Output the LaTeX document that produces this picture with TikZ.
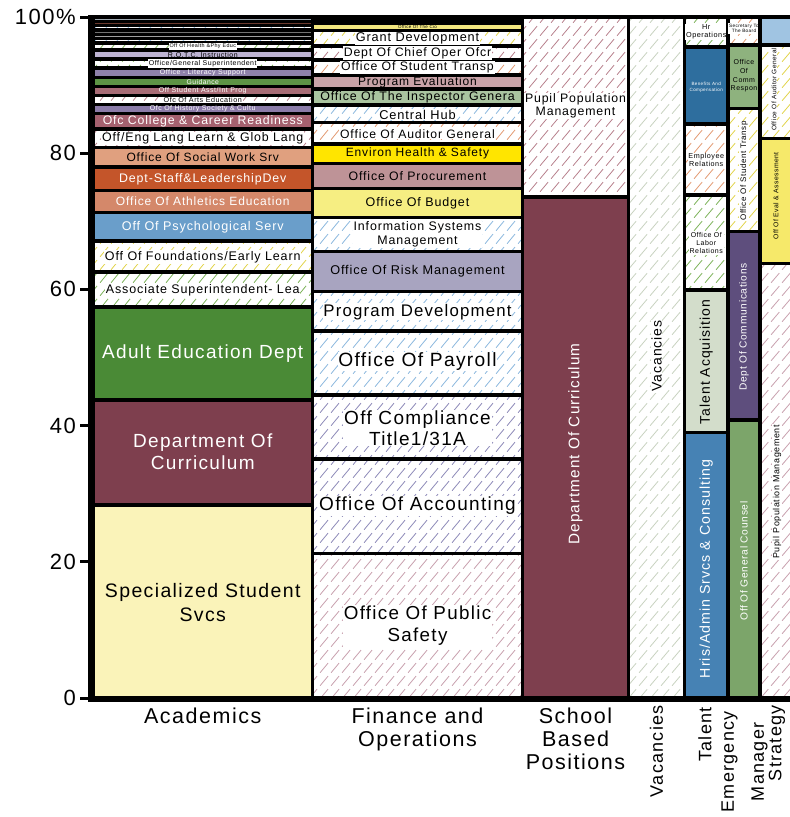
\documentclass[tikz,border=0pt]{standalone}
\usepackage{fontspec}
\setmainfont{Liberation Sans}[LetterSpace=7]
\usetikzlibrary{patterns.meta}

% fills
\definecolor{specyel}{HTML}{FAF3B9}
\definecolor{maroon}{HTML}{7E3F4E}
\definecolor{adultgrn}{HTML}{4A8A36}
\definecolor{psychblue}{HTML}{6A9ECA}
\definecolor{athletic}{HTML}{D4886A}
\definecolor{staffdev}{HTML}{C4552A}
\definecolor{socwork}{HTML}{E0A07F}
\definecolor{college}{HTML}{A5616F}
\definecolor{history}{HTML}{8B7BA8}
\definecolor{stuasst}{HTML}{A86C76}
\definecolor{guidgrn}{HTML}{5D9445}
\definecolor{literacy}{HTML}{8F82AA}
\definecolor{rotc}{HTML}{BDB3D2}
\definecolor{tinybrown}{HTML}{6B3A2E}
\definecolor{tinygray}{HTML}{9FA8B0}
\definecolor{riskmgmt}{HTML}{A8A4C0}
\definecolor{budget}{HTML}{F6EE82}
\definecolor{procure}{HTML}{BE9397}
\definecolor{environ}{HTML}{FFE500}
\definecolor{inspector}{HTML}{AAC4A0}
\definecolor{progeval}{HTML}{C9A3A8}
\definecolor{cioyel}{HTML}{F3E780}
\definecolor{talentacq}{HTML}{D3DDCB}
\definecolor{hris}{HTML}{4682B4}
\definecolor{benefits}{HTML}{2E6E9E}
\definecolor{counsel}{HTML}{7CA56A}
\definecolor{deptcomm}{HTML}{5E4E7D}
\definecolor{commresp}{HTML}{8EB27E}
\definecolor{evalyel}{HTML}{F6E96A}
\definecolor{stratblue}{HTML}{A0C4E2}
% hatch colours
\definecolor{hgreen}{HTML}{7DB35A}
\definecolor{hyellow}{HTML}{E2D44A}
\definecolor{hblue}{HTML}{8AB8DE}
\definecolor{hpurple}{HTML}{8C88B8}
\definecolor{hmaroon}{HTML}{B8808C}
\definecolor{hpink}{HTML}{C8A0AE}
\definecolor{hsalmon}{HTML}{E39A72}
\definecolor{hvac}{HTML}{C8D2C0}

\tikzdeclarepattern{
  name=dashhatch,
  type=uncolored,
  bottom left={(0pt,0pt)},
  top right={(11pt,13pt)},
  tile size={(11pt,13pt)},
  code={
    \draw[line width=0.85pt] (1.2pt,1.4pt) -- (9.8pt,11.6pt);
  }
}

\newcommand{\fsz}[2]{\fontsize{#1}{#2}\selectfont}

\tikzset{
  cellfill/.style={draw=black, line width=3.5pt, fill=#1},
  cellhatch/.style={draw=black, line width=3.5pt, pattern=dashhatch, pattern color=#1},
  txt/.style={inner sep=0.8pt, align=center, text=black},
  wtxt/.style={txt, text=white},
  htxt/.style={txt, fill=white},
  ticklab/.style={anchor=east, inner sep=0pt, font=\fsz{22}{24}},
  xlab/.style={anchor=north, align=center, inner sep=0pt, font=\fsz{21.5}{23}},
  rlab/.style={rotate=90, anchor=east, align=center, inner sep=0pt, font=\fsz{18}{30}},
}

\begin{document}
\begin{tikzpicture}[x=1pt, y=-1pt]
    \fill[white] (0,0) rectangle (790,817);
    \useasboundingbox (0,0) rectangle (790,817);

    % Academics
    \draw[cellfill=specyel] (93,505) rectangle (312.5,698);
    \draw[cellfill=maroon] (93,400) rectangle (312.5,505);
    \draw[cellfill=adultgrn] (93,307) rectangle (312.5,400);
    \draw[cellhatch=hgreen] (93,272) rectangle (312.5,307);
    \draw[cellhatch=hyellow] (93,241) rectangle (312.5,272);
    \draw[cellfill=psychblue] (93,212.5) rectangle (312.5,241);
    \draw[cellfill=athletic] (93,190.5) rectangle (312.5,212.5);
    \draw[cellfill=staffdev] (93,167) rectangle (312.5,190.5);
    \draw[cellfill=socwork] (93,147.5) rectangle (312.5,167);
    \draw[cellhatch=hmaroon] (93,129) rectangle (312.5,147.5);
    \draw[cellfill=college] (93,113.5) rectangle (312.5,129);
    \draw[cellfill=history] (93,104.5) rectangle (312.5,113.5);
    \draw[cellhatch=hmaroon] (93,95.5) rectangle (312.5,104.5);
    \draw[cellfill=stuasst] (93,86.5) rectangle (312.5,95.5);
    \draw[cellfill=guidgrn] (93,77.5) rectangle (312.5,86.5);
    \draw[cellfill=literacy] (93,68) rectangle (312.5,77.5);
    \draw[cellhatch=hgreen] (93,59) rectangle (312.5,68);
    \draw[cellfill=rotc] (93,50) rectangle (312.5,59);
    \draw[cellhatch=hgreen] (93,43) rectangle (312.5,50);
    \draw[cellhatch=hblue] (93,38.6) rectangle (312.5,43);
    \draw[cellfill=gray!75] (93,34.3) rectangle (312.5,38.6);
    \draw[cellfill=gray!90!black] (93,30) rectangle (312.5,34.3);
    \draw[cellhatch=hblue] (93,25.6) rectangle (312.5,30);
    \draw[cellfill=tinybrown] (93,21.3) rectangle (312.5,25.6);
    \draw[cellfill=tinygray] (93,17) rectangle (312.5,21.3);

    \node[txt, font=\fsz{19.5}{24}] (acSpec) at (202.75,603) {Specialized Student\\Svcs};
    \node[wtxt, font=\fsz{19}{22}] (acCurr) at (202.75,451.5) {Department Of\\Curriculum};
    \node[wtxt, font=\fsz{19}{22}] (acAdult) at (202.75,354) {Adult Education Dept};
    \node[htxt, font=\fsz{12.5}{14}] (acAssoc) at (202.75,290) {Associate Superintendent- Lea};
    \node[htxt, font=\fsz{12.5}{14}] (acFound) at (202.75,257) {Off Of Foundations/Early Learn};
    \node[wtxt, font=\fsz{12.6}{14}] (acPsych) at (202.75,227.5) {Off Of Psychological Serv};
    \node[wtxt, font=\fsz{12}{14}] (acAthl) at (202.75,201.5) {Office Of Athletics Education};
    \node[wtxt, font=\fsz{12.4}{14}] (acStaff) at (202.75,179) {Dept-Staff\&LeadershipDev};
    \node[txt, font=\fsz{12}{14}] (acSocial) at (202.75,157) {Office Of Social Work Srv};
    \node[htxt, font=\fsz{12.4}{14}] (acEng) at (202.75,138.5) {Off/Eng Lang Learn \& Glob Lang};
    \node[wtxt, font=\fsz{12.3}{14}] (acCollege) at (202.75,121) {Ofc College \& Career Readiness};
    \node[wtxt, font=\fsz{7}{8}] (acHist) at (202.75,109) {Ofc Of History Society \& Cultu};
    \node[htxt, font=\fsz{7.2}{8}] (acArts) at (202.75,100) {Ofc Of Arts Education};
    \node[wtxt, font=\fsz{7}{8}] (acAsst) at (202.75,91) {Off Student Asst/Int Prog};
    \node[wtxt, font=\fsz{6.8}{8}] (acGuid) at (202.75,82) {Guidance};
    \node[wtxt, font=\fsz{7}{8}] (acLit) at (202.75,72.5) {Office - Literacy Support};
    \node[htxt, font=\fsz{7}{8}] (acGen) at (202.75,63.5) {Office/General Superintendent};
    \node[txt, font=\fsz{7}{8}] (acRotc) at (202.75,54.5) {R.O.T.C. Instruction};
    \node[htxt, font=\fsz{5.4}{6}] (acHealth) at (202.75,46.5) {Off Of Health \&Phy Educ};

    % Finance and Operations
    \draw[cellhatch=hpink] (312.5,553.5) rectangle (522.5,698);
    \draw[cellhatch=hpurple] (312.5,459) rectangle (522.5,553.5);
    \draw[cellhatch=hpurple] (312.5,395) rectangle (522.5,459);
    \draw[cellhatch=hblue] (312.5,331) rectangle (522.5,395);
    \draw[cellhatch=hblue] (312.5,291.5) rectangle (522.5,331);
    \draw[cellfill=riskmgmt] (312.5,251.5) rectangle (522.5,291.5);
    \draw[cellhatch=hblue] (312.5,217.5) rectangle (522.5,251.5);
    \draw[cellfill=budget] (312.5,188.5) rectangle (522.5,217.5);
    \draw[cellfill=procure] (312.5,163.5) rectangle (522.5,188.5);
    \draw[cellfill=environ] (312.5,144) rectangle (522.5,163.5);
    \draw[cellhatch=hsalmon] (312.5,122.5) rectangle (522.5,144);
    \draw[cellhatch=hblue] (312.5,105) rectangle (522.5,122.5);
    \draw[cellfill=inspector] (312.5,89) rectangle (522.5,105);
    \draw[cellfill=progeval] (312.5,75) rectangle (522.5,89);
    \draw[cellhatch=hsalmon] (312.5,60) rectangle (522.5,75);
    \draw[cellhatch=hmaroon] (312.5,46) rectangle (522.5,60);
    \draw[cellhatch=hyellow] (312.5,30.5) rectangle (522.5,46);
    \draw[cellfill=cioyel] (312.5,23.5) rectangle (522.5,30.5);
    \draw[cellfill=tinygray] (312.5,20.5) rectangle (522.5,23.5);
    \draw[cellfill=psychblue] (312.5,17) rectangle (522.5,20.5);

    \node[txt, font=\fsz{4.5}{5}] (fiCio) at (417.5,27) {Office Of The Cio};
    \node[htxt, font=\fsz{12.7}{14}] (fiGrant) at (417.5,38.3) {Grant Development};
    \node[htxt, font=\fsz{12.3}{14}] (fiChief) at (417.5,53) {Dept Of Chief Oper Ofcr};
    \node[htxt, font=\fsz{12.3}{14}] (fiTransp) at (417.5,67.5) {Office Of Student Transp};
    \node[txt, font=\fsz{12}{14}] (fiEval) at (417.5,82) {Program Evaluation};
    \node[txt, font=\fsz{12.4}{14}] (fiInsp) at (417.5,97) {Office Of The Inspector Genera};
    \node[htxt, font=\fsz{12.8}{14}] (fiHub) at (417.5,114.5) {Central Hub};
    \node[htxt, font=\fsz{12.2}{14}] (fiAudit) at (417.5,133.8) {Office Of Auditor General};
    \node[txt, font=\fsz{12}{14}] (fiEnv) at (417.5,153.7) {Environ Health \& Safety};
    \node[txt, font=\fsz{12.3}{14}] (fiProc) at (417.5,175.8) {Office Of Procurement};
    \node[txt, font=\fsz{12.5}{14}] (fiBudget) at (417.5,203) {Office Of Budget};
    \node[htxt, font=\fsz{12.4}{14.5}] (fiInfo) at (417.5,234.5) {Information Systems\\Management};
    \node[txt, font=\fsz{12.7}{14}] (fiRisk) at (417.5,271) {Office Of Risk Management};
    \node[htxt, font=\fsz{16.8}{19}] (fiProg) at (417.5,311.7) {Program Development};
    \node[htxt, font=\fsz{19.2}{21}] (fiPay) at (417.5,361.5) {Office Of Payroll};
    \node[htxt, font=\fsz{19}{21}] (fiComp) at (417.5,428) {Off Compliance\\Title1/31A};
    \node[htxt, font=\fsz{19}{21}] (fiAcct) at (417.5,506) {Office Of Accounting};
    \node[htxt, font=\fsz{18.8}{22}] (fiSafety) at (417.5,626) {Office Of Public\\Safety};

    % School Based Positions
    \draw[cellfill=maroon] (522.5,197) rectangle (628.5,698);
    \draw[cellhatch=hmaroon] (522.5,17) rectangle (628.5,197);
    \node[htxt, font=\fsz{12.3}{13.5}] (sbPupil) at (575.5,106) {Pupil Population\\Management};
    \node[wtxt, rotate=90, font=\fsz{15.3}{17}] (sbCurr) at (575.5,444) {Department Of Curriculum};

    % Vacancies
    \draw[cellhatch=hvac] (628.5,17) rectangle (684.5,698);
    \node[htxt, rotate=90, font=\fsz{14}{16}] (vaLab) at (656.5,356) {Vacancies};

    % Talent
    \draw[cellfill=hris] (684.5,432.5) rectangle (728,698);
    \draw[cellfill=talentacq] (684.5,290) rectangle (728,432.5);
    \draw[cellhatch=hgreen] (684.5,195) rectangle (728,290);
    \draw[cellhatch=hsalmon] (684.5,124) rectangle (728,195);
    \draw[cellfill=benefits] (684.5,47) rectangle (728,124);
    \draw[cellhatch=hgreen] (684.5,17) rectangle (728,47);
    \node[htxt, font=\fsz{7.3}{8.3}] (taHr) at (706.25,32) {Hr\\Operations};
    \node[wtxt, font=\fsz{4.6}{5.5}] (taBen) at (706.25,87.5) {Benefits And\\Compensation};
    \node[htxt, font=\fsz{7.2}{7.8}] (taEmp) at (706.25,160) {Employee\\Relations};
    \node[htxt, font=\fsz{7}{8.3}] (taLab) at (706.25,243) {Office Of\\Labor\\Relations};
    \node[txt, rotate=90, font=\fsz{14}{16}] (taAcq) at (706.25,362) {Talent Acquisition};
    \node[wtxt, rotate=90, font=\fsz{14.2}{16}] (taHris) at (706.25,569) {Hris/Admin Srvcs \& Consulting};

    % Emergency Manager
    \draw[cellfill=counsel] (728,420) rectangle (760,698);
    \draw[cellfill=deptcomm] (728,231.5) rectangle (760,420);
    \draw[cellhatch=hyellow] (728,108.5) rectangle (760,231.5);
    \draw[cellfill=commresp] (728,45) rectangle (760,108.5);
    \draw[cellhatch=hsalmon] (728,17) rectangle (760,45);
    \node[htxt, font=\fsz{4.7}{5.3}] (emSec) at (744,28.5) {Secretary To\\The Board};
    \node[txt, font=\fsz{7}{8.6}] (emComm) at (744,76) {Office\\Of\\Comm\\Respon};
    \node[htxt, rotate=90, font=\fsz{8}{9}] (emTransp) at (744,171) {Office Of Student Transp};
    \node[wtxt, rotate=90, font=\fsz{10.2}{12}] (emDept) at (744,327) {Dept Of Communications};
    \node[wtxt, rotate=90, font=\fsz{10.2}{12}] (emCounsel) at (744,561) {Off Of General Counsel};

    % Strategy
    \draw[cellhatch=hpink] (760,263.5) rectangle (793,698);
    \draw[cellfill=evalyel] (760,138.5) rectangle (793,263.5);
    \draw[cellhatch=hyellow] (760,45) rectangle (793,138.5);
    \draw[cellfill=stratblue] (760,17) rectangle (793,45);
    \node[htxt, rotate=90, font=\fsz{6.5}{7}] (stAudit) at (774,89.5) {Office Of Auditor General};
    \node[txt, rotate=90, font=\fsz{6.8}{7}] (stEval) at (776,196) {Off Of Eval \& Assessment};
    \node[htxt, rotate=90, font=\fsz{8.9}{10}] (stPupil) at (777,492) {Pupil Population Management};

    % axes
    \draw[line width=3pt] (89,15) -- (89,701.5);
    \draw[line width=3pt] (87.5,700) -- (793,700);
    \draw[line width=3pt] (80,698) -- (89,698);
    \draw[line width=3pt] (80,561.8) -- (89,561.8);
    \draw[line width=3pt] (80,425.6) -- (89,425.6);
    \draw[line width=3pt] (80,289.4) -- (89,289.4);
    \draw[line width=3pt] (80,153.2) -- (89,153.2);
    \draw[line width=3pt] (80,17) -- (89,17);
    \node[ticklab] (y0) at (76,698) {0};
    \node[ticklab] (y20) at (76,561.8) {20};
    \node[ticklab] (y40) at (76,425.6) {40};
    \node[ticklab] (y60) at (76,289.4) {60};
    \node[ticklab] (y80) at (76,153.2) {80};
    \node[ticklab] (y100) at (76,17) {100\%};

    \node[xlab] (xAcad) at (202.75,708) {Academics};
    \node[xlab] (xFin) at (417.5,708) {Finance and\\Operations};
    \node[xlab] (xSchool) at (575.5,708) {School\\Based\\Positions};
    \node[rlab] (xVac) at (656.5,705) {Vacancies};
    \node[rlab] (xTal) at (705,707) {Talent};
    \node[rlab] (xEm) at (744.5,711) {Emergency\\Manager};
    \node[rlab] (xStr) at (777,705) {Strategy};
\end{tikzpicture}
\end{document}
